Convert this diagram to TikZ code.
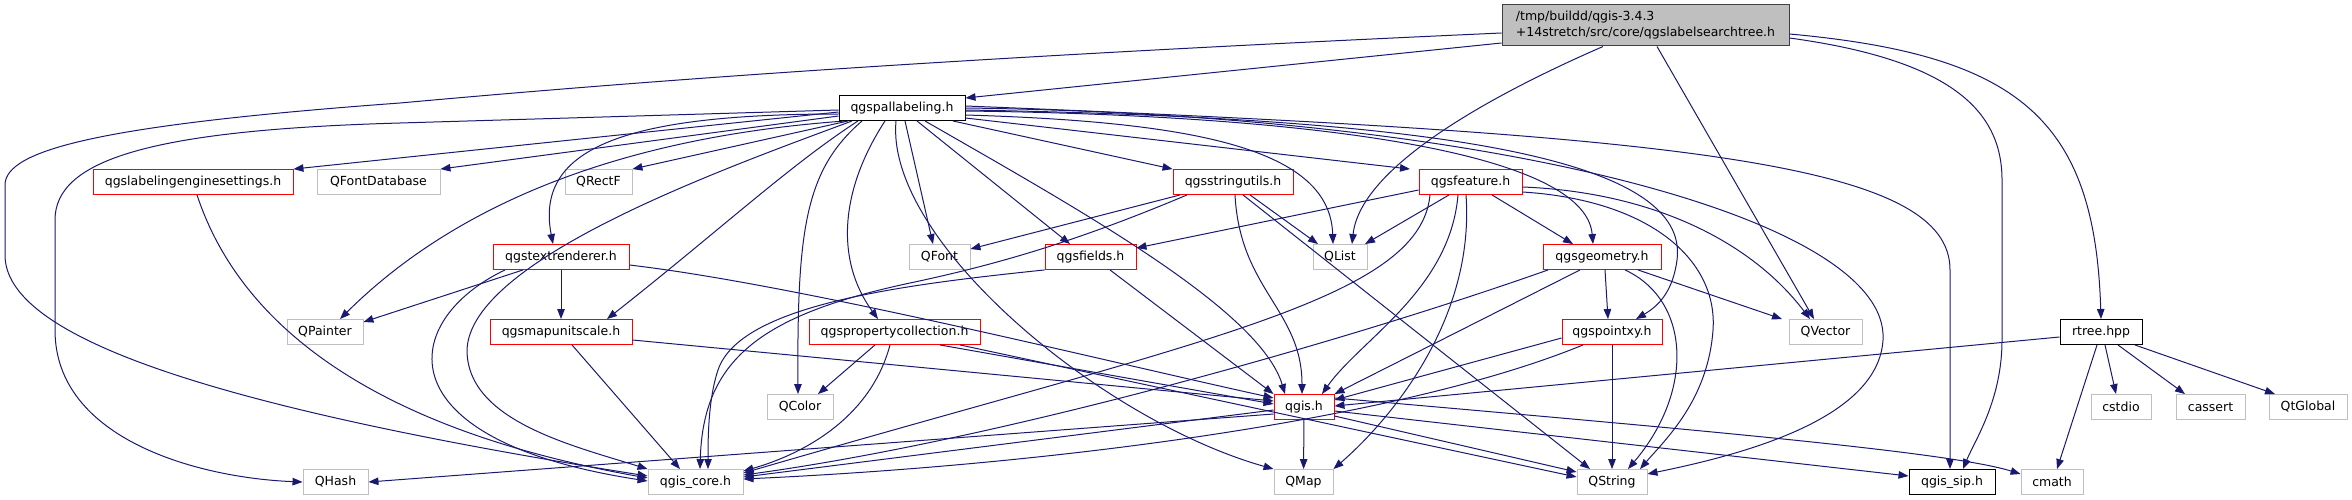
\documentclass[tikz,border=0pt]{standalone}
\usepackage{fontspec}
\setmainfont{DejaVu Sans}
\usetikzlibrary{arrows.meta}
\definecolor{edgeblue}{HTML}{191970}
\definecolor{greyb}{HTML}{BFBFBF}
\definecolor{redb}{HTML}{FF0000}
\definecolor{rootborder}{HTML}{404040}
\tikzset{
  base/.style={rectangle, minimum height=25pt, inner xsep=4pt, inner ysep=0pt,
    font=\fontsize{12.5pt}{16pt}\selectfont, text=black},
  blk/.style={base, draw=black, line width=1pt},
  rdn/.style={base, draw=redb, line width=0.9pt},
  gry/.style={base, draw=greyb, line width=0.9pt},
  rootn/.style={base, fill=greyb, draw=rootborder, line width=1pt, align=left, minimum height=41pt},
  e/.style={draw=edgeblue, line width=1pt, -{Triangle[length=10pt,width=7.5pt]}, fill=none},
  mw/.style={minimum width=#1}
}
\begin{document}
\begin{tikzpicture}[x=1pt,y=-1pt]
\useasboundingbox (0,0) rectangle (2352,500);
% nodes
\node[rootn, mw=287pt] (root) at (1645.5,25.5) {/tmp/buildd/qgis-3.4.3\\+14stretch/src/core/qgslabelsearchtree.h};
\node[blk, mw=126pt] (pal) at (902,108) {qgspallabeling.h};
\node[rdn, mw=200pt] (les) at (193,182) {qgslabelingenginesettings.h};
\node[gry, mw=123pt] (qfontdb) at (378.5,182) {QFontDatabase};
\node[gry, mw=67pt] (qrectf) at (598.5,182) {QRectF};
\node[rdn, mw=120pt] (strutil) at (1233,182) {qgsstringutils.h};
\node[rdn, mw=103pt] (feature) at (1470.5,182) {qgsfeature.h};
\node[rdn, mw=136pt] (textr) at (561,257) {qgstextrenderer.h};
\node[gry, mw=61pt] (qfont) at (939.5,257) {QFont};
\node[rdn, mw=91pt] (fields) at (1090.5,257) {qgsfields.h};
\node[gry, mw=54pt] (qlist) at (1340,257) {QList};
\node[rdn, mw=118pt] (geom) at (1602,257) {qgsgeometry.h};
\node[gry, mw=76pt] (qpainter) at (325,332) {QPainter};
\node[rdn, mw=142pt] (mapunit) at (561,332) {qgsmapunitscale.h};
\node[rdn, mw=171pt] (propcoll) at (894.5,332) {qgspropertycollection.h};
\node[rdn, mw=100pt] (pointxy) at (1612,332) {qgspointxy.h};
\node[gry, mw=73pt] (qvector) at (1825.5,332) {QVector};
\node[blk, mw=82pt] (rtree) at (2101,332) {rtree.hpp};
\node[gry, mw=66pt] (qcolor) at (800,407) {QColor};
\node[rdn, mw=60pt] (qgis) at (1304,407) {qgis.h};
\node[gry, mw=60pt] (cstdio) at (2121,407) {cstdio};
\node[gry, mw=69pt] (cassert) at (2210.5,407) {cassert};
\node[gry, mw=78pt] (qtglobal) at (2308,407) {QtGlobal};
\node[gry, mw=65pt] (qhash) at (335.5,482) {QHash};
\node[gry, mw=95pt] (core) at (695.5,482) {qgis\_core.h};
\node[gry, mw=59pt] (qmap) at (1303.5,482) {QMap};
\node[gry, mw=70pt] (qstring) at (1612,482) {QString};
\node[blk, mw=86pt] (sip) at (1952,482) {qgis\_sip.h};
\node[gry, mw=62pt] (cmath) at (2052,482) {cmath};
% root edges
\draw[e] (root.west |- 0,43) -- (pal.east |- 0,98);
\draw[e] (root.west |- 0,33) .. controls (900,60) and (600,85) .. (400,103) .. controls (100,125) and (5,150) .. (5,185) -- (5,255) .. controls (5,335) and (200,405) .. (core.west |- 0,476);
\draw[e] (1603,0 |- root.south) .. controls (1480,100) and (1360,170) .. (1352,0 |- qlist.north);
\draw[e] (1657,0 |- root.south) -- (1814,0 |- qvector.north);
\draw[e] (root.east |- 0,38) .. controls (1950,60) and (2002,110) .. (2002,180) -- (2002,340) .. controls (2002,400) and (1975,440) .. (1963,0 |- sip.north);
\draw[e] (root.east |- 0,34) .. controls (2020,55) and (2095,120) .. (rtree.north);
% qgspallabeling edges
\draw[e] (pal.west |- 0,112) -- (les.north east);
\draw[e] (pal.west |- 0,116) -- (qfontdb.north east);
\draw[e] (848,0 |- pal.south) -- (qrectf.north east);
\draw[e] (pal.west |- 0,114) .. controls (620,114) and (535,150) .. (553,0 |- textr.north);
\draw[e] (845,0 |- pal.south) .. controls (650,135) and (470,190) .. (340,0 |- qpainter.north);
\draw[e] (pal.west |- 0,110) -- (400,123) .. controls (150,130) and (55,160) .. (55,220) -- (55,330) .. controls (55,440) and (200,478) .. (qhash.west);
\draw[e] (852,0 |- pal.south) .. controls (720,170) and (470,260) .. (467,350) .. controls (467,420) and (570,445) .. (core.north west);
\draw[e] (858,0 |- pal.south) .. controls (790,165) and (720,230) .. (607,0 |- mapunit.north);
\draw[e] (862,0 |- pal.south) .. controls (805,170) and (797,230) .. (798,0 |- qcolor.north);
\draw[e] (885,0 |- pal.south) .. controls (840,190) and (835,260) .. (878,0 |- propcoll.north);
\draw[e] (896,0 |- pal.south) .. controls (885,240) and (1100,420) .. (qmap.north west);
\draw[e] (905,0 |- pal.south) -- (933,0 |- qfont.north);
\draw[e] (917,0 |- pal.south) -- (1070,0 |- fields.north);
\draw[e] (925,0 |- pal.south) .. controls (1080,210) and (1260,310) .. (1285,0 |- qgis.north);
\draw[e] (953,0 |- pal.south) -- (strutil.north west);
\draw[e] (pal.east |- 0,115) .. controls (1200,122) and (1330,150) .. (1333,0 |- qlist.north);
\draw[e] (pal.east |- 0,118) -- (1410,0 |- feature.north);
\draw[e] (pal.east |- 0,111) .. controls (1300,115) and (1585,150) .. (1593,0 |- geom.north);
\draw[e] (pal.east |- 0,110) .. controls (1450,118) and (1690,160) .. (1677,260) .. controls (1673,290) and (1660,305) .. (1636,0 |- pointxy.north);
\draw[e] (pal.east |- 0,108) .. controls (1500,115) and (1890,220) .. (1883,340) .. controls (1878,420) and (1740,455) .. (qstring.east |- 0,474);
\draw[e] (pal.east |- 0,106) .. controls (1700,135) and (1950,165) .. (1950,270) -- (1950,0 |- sip.north);
% qgslabelingenginesettings
\draw[e] (197,0 |- les.south) .. controls (235,310) and (350,425) .. (core.west |- 0,478);
% qgstextrenderer
\draw[e] (505,0 |- textr.south) .. controls (400,320) and (380,440) .. (core.west |- 0,481);
\draw[e] (523,0 |- textr.south) -- (qpainter.east |- 0,322);
\draw[e] (textr) -- (mapunit);
\draw[e] (textr.east |- 0,265) .. controls (800,285) and (1100,360) .. (qgis.west |- 0,398);
% qgsmapunitscale
\draw[e] (572,0 |- mapunit.south) -- (680,0 |- core.north);
\draw[e] (mapunit.east |- 0,340) -- (qgis.west |- 0,401);
% qgspropertycollection
\draw[e] (875,0 |- propcoll.south) -- (818,0 |- qcolor.north);
\draw[e] (890,0 |- propcoll.south) .. controls (870,420) and (800,455) .. (core.east |- 0,471);
\draw[e] (940,0 |- propcoll.south) -- (qgis.west |- 0,404);
\draw[e] (960,0 |- propcoll.south) -- (qstring.west |- 0,477);
% qgsfields
\draw[e] (fields.south west) .. controls (900,285) and (740,305) .. (718,370) .. controls (708,400) and (708,440) .. (708,0 |- core.north);
\draw[e] (1110,0 |- fields.south) -- (qgis.north west);
% qgsstringutils
\draw[e] (1180,0 |- strutil.south) -- (qfont.east |- 0,249);
\draw[e] (1187,0 |- strutil.south) .. controls (1080,240) and (1000,264) .. (910,283) .. controls (760,315) and (703,360) .. (700,0 |- core.north);
\draw[e] (1250,0 |- strutil.south) -- (1318,0 |- qlist.north);
\draw[e] (1235,0 |- strutil.south) .. controls (1240,290) and (1302,310) .. (1302,0 |- qgis.north);
\draw[e] (1243,0 |- strutil.south) -- (1590,0 |- qstring.north);
% qgsfeature
\draw[e] (1449,0 |- feature.south) -- (1365,0 |- qlist.north);
\draw[e] (feature.west |- 0,190) -- (fields.east |- 0,248);
\draw[e] (1430,0 |- feature.south) .. controls (1420,300) and (1200,340) .. (core.east |- 0,473);
\draw[e] (1458,0 |- feature.south) .. controls (1450,290) and (1360,340) .. (1322,0 |- qgis.north);
\draw[e] (1466,0 |- feature.south) .. controls (1475,320) and (1390,420) .. (qmap.north east);
\draw[e] (1492,0 |- feature.south) -- (1573,0 |- geom.north);
\draw[e] (feature.east |- 0,187) .. controls (1650,192) and (1750,240) .. (1810,0 |- qvector.north);
\draw[e] (feature.east |- 0,192) .. controls (1650,200) and (1718,260) .. (1713,330) .. controls (1708,400) and (1665,440) .. (1640,0 |- qstring.north);
% qgsgeometry
\draw[e] (1605,0 |- geom.south) -- (1608,0 |- pointxy.north);
\draw[e] (1638,0 |- geom.south) -- (1782,0 |- qvector.north);
\draw[e] (1625,0 |- geom.south) .. controls (1690,300) and (1695,390) .. (1628,0 |- qstring.north);
\draw[e] (1580,0 |- geom.south) -- (qgis.north east);
\draw[e] (1548,0 |- geom.south) .. controls (1350,340) and (1000,440) .. (core.east |- 0,475);
% qgspointxy
\draw[e] (pointxy.west |- 0,338) -- (qgis.east |- 0,400);
\draw[e] (pointxy) -- (qstring);
\draw[e] (1583,0 |- pointxy.south) .. controls (1400,420) and (1050,465) .. (core.east |- 0,479);
% qgis.h
\draw[e] (qgis.west |- 0,410) -- (core.east |- 0,477);
\draw[e] (qgis.west |- 0,414) -- (qhash.east);
\draw[e] (qgis) -- (qmap);
\draw[e] (qgis.east |- 0,416) -- (qstring.west |- 0,472);
\draw[e] (qgis.east |- 0,411) -- (sip.west |- 0,476);
\draw[e] (qgis.east |- 0,398) .. controls (1700,430) and (1950,452) .. (cmath.west |- 0,474);
% rtree.hpp
\draw[e] (rtree.west |- 0,337) -- (qgis.east |- 0,406);
\draw[e] (2097,0 |- rtree.south) -- (2057,0 |- cmath.north);
\draw[e] (2105,0 |- rtree.south) -- (2116,0 |- cstdio.north);
\draw[e] (2118,0 |- rtree.south) -- (2185,0 |- cassert.north);
\draw[e] (2135,0 |- rtree.south) -- (2275,0 |- qtglobal.north);
\end{tikzpicture}
\end{document}
